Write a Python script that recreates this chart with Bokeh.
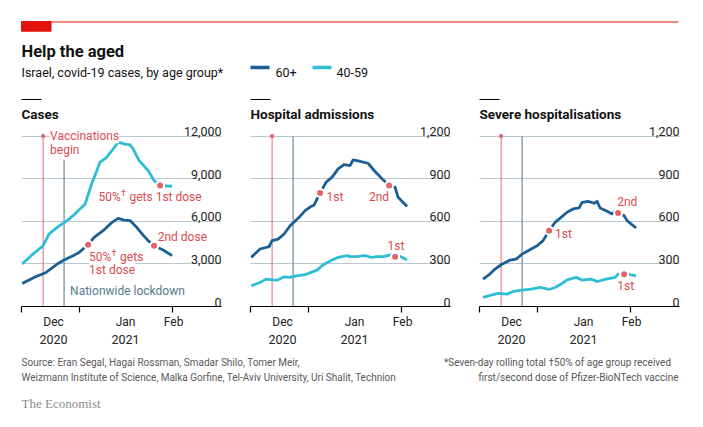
import pandas as pd
from bokeh.plotting import figure
from bokeh.layouts import column, row
from bokeh.models import Range1d, FixedTicker, DatetimeAxis, Label
from bokeh.core.properties import value
from bokeh.embed import file_html
from bokeh.resources import INLINE

# ---- data (seven-day rolling totals) ----
cases_60_dates = ["2020-12-13", "2020-12-17", "2020-12-21", "2020-12-25", "2020-12-27", "2020-12-30",
                  "2021-01-01", "2021-01-03", "2021-01-04", "2021-01-06", "2021-01-09", "2021-01-12",
                  "2021-01-14", "2021-01-16", "2021-01-18", "2021-01-20", "2021-01-22", "2021-01-24",
                  "2021-01-26", "2021-01-29", "2021-02-01"]
cases_60 = [1620, 2050, 2400, 3030, 3270, 3580, 3810, 4170, 4350, 4870, 5340, 5930,
            6210, 6090, 6050, 5620, 5110, 4640, 4280, 3980, 3580]

cases_40_dates = ["2020-12-13", "2020-12-16", "2020-12-20", "2020-12-22", "2020-12-25", "2020-12-28",
                  "2020-12-30", "2021-01-03", "2021-01-05", "2021-01-08", "2021-01-10", "2021-01-12",
                  "2021-01-14", "2021-01-16", "2021-01-18", "2021-01-19", "2021-01-21", "2021-01-24",
                  "2021-01-26", "2021-01-28", "2021-02-01"]
cases_40 = [2990, 3580, 4280, 5110, 5620, 6050, 6400, 7220, 8520, 10170, 10470, 10990,
            11580, 11460, 11390, 11110, 10280, 9580, 8870, 8520, 8470]

hosp_60_dates = ["2020-12-13", "2020-12-16", "2020-12-19", "2020-12-20", "2020-12-22", "2020-12-24",
                 "2020-12-26", "2020-12-29", "2020-12-31", "2021-01-02", "2021-01-03", "2021-01-05",
                 "2021-01-07", "2021-01-09", "2021-01-11", "2021-01-13", "2021-01-15", "2021-01-16",
                 "2021-01-18", "2021-01-21", "2021-01-23", "2021-01-26", "2021-01-28", "2021-01-30",
                 "2021-01-31", "2021-02-03"]
hosp_60 = [346, 405, 421, 464, 475, 511, 569, 628, 675, 705, 715, 800, 875, 911, 969, 1000,
           993, 1033, 1024, 1009, 958, 892, 852, 840, 769, 704]

hosp_40_dates = ["2020-12-13", "2020-12-16", "2020-12-18", "2020-12-21", "2020-12-22", "2020-12-24",
                 "2020-12-26", "2020-12-28", "2020-12-31", "2021-01-02", "2021-01-04", "2021-01-06",
                 "2021-01-09", "2021-01-11", "2021-01-14", "2021-01-15", "2021-01-17", "2021-01-20",
                 "2021-01-22", "2021-01-24", "2021-01-26", "2021-01-29", "2021-01-30", "2021-02-01",
                 "2021-02-03"]
hosp_40 = [146, 169, 193, 186, 188, 209, 205, 216, 224, 240, 256, 294, 327, 346, 358, 351,
           351, 358, 346, 351, 351, 365, 351, 351, 327]

severe_60_dates = ["2020-12-14", "2020-12-16", "2020-12-18", "2020-12-20", "2020-12-23", "2020-12-25",
                   "2020-12-27", "2020-12-29", "2021-01-01", "2021-01-03", "2021-01-05", "2021-01-07",
                   "2021-01-09", "2021-01-11", "2021-01-13", "2021-01-15", "2021-01-16", "2021-01-18",
                   "2021-01-20", "2021-01-21", "2021-01-22", "2021-01-24", "2021-01-26", "2021-01-27",
                   "2021-01-28", "2021-01-30", "2021-01-31", "2021-02-03"]
severe_60 = [193, 224, 264, 294, 327, 334, 369, 393, 428, 464, 534, 593, 628, 664, 687, 694,
             734, 741, 727, 741, 694, 675, 652, 671, 659, 640, 605, 553]

severe_40_dates = ["2020-12-14", "2020-12-17", "2020-12-19", "2020-12-22", "2020-12-24", "2020-12-27",
                   "2020-12-30", "2021-01-02", "2021-01-05", "2021-01-07", "2021-01-09", "2021-01-11",
                   "2021-01-14", "2021-01-16", "2021-01-19", "2021-01-21", "2021-01-24", "2021-01-27",
                   "2021-01-28", "2021-01-30", "2021-02-01", "2021-02-03"]
severe_40 = [64, 82, 92, 87, 106, 115, 122, 134, 120, 134, 158, 188, 205, 186, 193, 176,
             193, 205, 228, 228, 224, 216]

# 50% of age group vaccinated (1st / 2nd dose) markers
cases_60_dot_dates, cases_60_dots = ["2021-01-04", "2021-01-26"], [4350, 4280]
cases_40_dot_dates, cases_40_dots = ["2021-01-28"], [8520]
hosp_60_dot_dates, hosp_60_dots = ["2021-01-05", "2021-01-28"], [800, 852]
hosp_40_dot_dates, hosp_40_dots = ["2021-01-30"], [351]
severe_60_dot_dates, severe_60_dots = ["2021-01-05", "2021-01-28"], [534, 659]
severe_40_dot_dates, severe_40_dots = ["2021-01-30"], [228]

vaccination_start = "2020-12-20"
lockdown_start = "2020-12-27"

cases_ticks = [0, 3000, 6000, 9000, 12000]
cases_tick_labels = ["0", "3,000", "6,000", "9,000", "12,000"]
beds_ticks = [0, 300, 600, 900, 1200]
beds_tick_labels = ["0", "300", "600", "900", "1,200"]

month_labels = ["Dec", "Jan", "Feb"]
month_label_dates = ["2020-12-23 12:00", "2021-01-16 12:00", "2021-02-01 12:00"]
year_labels = ["2020", "2021"]
year_label_dates = ["2020-12-23 12:00", "2021-01-16 12:00"]
month_starts = ["2021-01-01", "2021-02-01"]

panel_titles = ["Cases", "Hospital admissions", "Severe hospitalisations"]
series_labels = ["60+", "40-59"]

# ---- style ----
FONT = "Roboto"
DARK = "#1b5f94"
CYAN = "#2fbdd3"
RED_TXT = "#dc4a51"
DOT = "#e0656a"
RED_LINE = "#e06a6f"
LOCK = "#6f8b9c"
LOCK_TXT = "#557a8f"
GRID = "#b9c7d0"
ECON_RED = "#e3120b"
INK = "#121212"

X0 = pd.Timestamp("2021-01-01") - pd.Timedelta(hours=19.2 * 24)
X1 = X0 + pd.Timedelta(hours=200 / 3 * 24)


def ms(d):
    return float(pd.Timestamp(d).value // 10**6)


def note(p, d, y, text, color=RED_TXT, dx=0, dy=0, size="12px"):
    p.add_layout(Label(x=ms(d), y=y, text=text, text_font=FONT, text_font_size=size,
                       text_color=color, text_baseline="middle", x_offset=dx, y_offset=dy,
                       level="glyph"))


def note_dagger(p, d, y, rest):
    # "50%" + superscript dagger + rest
    note(p, d, y, "50%")
    note(p, d, y, "†", dx=22.5, dy=4, size="9px")
    note(p, d, y, rest, dx=31)


def make_panel(title, width, left, right, ticks, tick_labels, d60, v60, d40, v40,
               dd60, dv60, dd40, dv40, lock_top, notes, dagger_notes=()):
    top = ticks[-1]
    p = figure(width=width, height=255, x_axis_type="datetime",
               x_range=Range1d(ms(X0), ms(X1)), y_range=Range1d(0, top * 1.08),
               y_axis_location=None, toolbar_location=None, output_backend="svg",
               min_border_left=left, min_border_right=right, min_border_top=21,
               min_border_bottom=50, outline_line_color=None)
    p.title.text = title
    p.title.align = "left"
    p.title.offset = 0
    p.title.standoff = 2
    p.title.text_font = FONT
    p.title.text_font_style = "bold"
    p.title.text_font_size = "13.5px"
    p.title.text_color = INK

    p.xgrid.visible = False
    p.ygrid.ticker = FixedTicker(ticks=ticks[1:])
    p.ygrid.grid_line_color = GRID
    p.ygrid.grid_line_width = 1

    ax = p.xaxis[0]
    ax.ticker = FixedTicker(ticks=[ms(d) for d in month_label_dates],
                            minor_ticks=[ms(X0)] + [ms(d) for d in month_starts])
    ax.major_label_overrides = {ms(d): t for d, t in zip(month_label_dates, month_labels)}
    ax.axis_line_color = "black"
    ax.axis_line_width = 1.2
    ax.major_tick_line_color = None
    ax.major_tick_out = 0
    ax.major_tick_in = 0
    ax.minor_tick_line_color = "black"
    ax.minor_tick_line_width = 1.2
    ax.minor_tick_out = 6
    ax.minor_tick_in = 0
    ax.major_label_standoff = 2
    ax.major_label_text_font = FONT
    ax.major_label_text_font_size = "12px"
    ax.major_label_text_color = "#222222"

    yr = DatetimeAxis(ticker=FixedTicker(ticks=[ms(d) for d in year_label_dates]),
                      major_label_overrides={ms(d): t for d, t in zip(year_label_dates, year_labels)},
                      axis_line_color=None, major_tick_line_color=None, minor_tick_line_color=None,
                      major_tick_out=0, major_tick_in=0, minor_tick_out=0, minor_tick_in=0,
                      major_label_standoff=3, major_label_text_font=FONT,
                      major_label_text_font_size="12.5px", major_label_text_color="#222222")
    p.add_layout(yr, "below")

    # event lines
    vx = pd.to_datetime([vaccination_start])
    lx = pd.to_datetime([lockdown_start])
    p.segment(x0=vx, y0=[0], x1=vx, y1=[top], line_color=RED_LINE, line_width=1)
    p.scatter(vx, [top], size=3.5, color=RED_LINE)
    p.segment(x0=lx, y0=[0], x1=lx, y1=[lock_top], line_color=LOCK, line_width=1.2)

    # y tick labels sitting on the gridlines
    p.text(x=[ms(X1)] * len(ticks), y=ticks, text=tick_labels, text_align="right",
           text_baseline="bottom", text_font=value(FONT), text_font_size="12.5px",
           text_color="#222222")

    for d, y, t, c in notes:
        p.add_layout(Label(x=ms(d), y=y, text=t, text_font=FONT, text_font_size="12px",
                           text_color=c, text_baseline="middle",
                           background_fill_color="white", level="glyph"))
    for d, y, rest in dagger_notes:
        note_dagger(p, d, y, rest)

    p.line(pd.to_datetime(d40), v40, line_color=CYAN, line_width=2.8, line_join="round")
    p.line(pd.to_datetime(d60), v60, line_color=DARK, line_width=2.8, line_join="round")
    p.scatter(pd.to_datetime(dd60 + dd40), dv60 + dv40, size=8, fill_color=DOT,
              line_color="white", line_width=2)
    return p


p1 = make_panel(panel_titles[0], 236, 21, 15, cases_ticks, cases_tick_labels,
                cases_60_dates, cases_60, cases_40_dates, cases_40,
                cases_60_dot_dates, cases_60_dots, cases_40_dot_dates, cases_40_dots, 10330,
                [("2020-12-22 08:00", 12000, "Vaccinations", RED_TXT),
                 ("2020-12-22 08:00", 10990, "begin", RED_TXT),
                 ("2021-01-27 05:00", 4920, "2nd dose", RED_TXT),
                 ("2021-01-04 08:00", 2591, "1st dose", RED_TXT),
                 ("2020-12-29 00:00", 1059, "Nationwide lockdown", LOCK_TXT)],
                [("2021-01-07 11:00", 7743, "gets 1st dose"),
                 ("2021-01-04 08:00", 3508, "gets")])
p2 = make_panel(panel_titles[1], 229, 14, 15, beds_ticks, beds_tick_labels,
                hosp_60_dates, hosp_60, hosp_40_dates, hosp_40,
                hosp_60_dot_dates, hosp_60_dots, hosp_40_dot_dates, hosp_40_dots, 1200,
                [("2021-01-07 03:00", 774, "1st", RED_TXT),
                 ("2021-01-21 07:00", 774, "2nd", RED_TXT),
                 ("2021-01-27 12:00", 428, "1st", RED_TXT)])
p3 = make_panel(panel_titles[2], 222, 14, 8, beds_ticks, beds_tick_labels,
                severe_60_dates, severe_60, severe_40_dates, severe_40,
                severe_60_dot_dates, severe_60_dots, severe_40_dot_dates, severe_40_dots, 1200,
                [("2021-01-07 00:00", 511, "1st", RED_TXT),
                 ("2021-01-27 17:00", 739, "2nd", RED_TXT),
                 ("2021-01-27 17:00", 141, "1st", RED_TXT)])

# ---- header (pixel coordinates, y downwards) ----
h = figure(width=687, height=101, x_range=Range1d(0, 687), y_range=Range1d(101, 0),
           x_axis_location=None, y_axis_location=None, toolbar_location=None,
           output_backend="svg", min_border=0, outline_line_color=None)
h.grid.visible = False
h.segment(x0=[21], y0=[21.5], x1=[678], y1=[21.5], line_color=ECON_RED, line_width=1)
h.quad(left=[21], right=[50.5], top=[21], bottom=[30.7], color=ECON_RED)
h.text(x=[21], y=[51], text=["Help the aged"], text_font=value(FONT), text_font_style="bold",
       text_font_size="16.5px", text_color=INK, text_baseline="alphabetic")
h.text(x=[21], y=[71.7], text=["Israel, covid-19 cases, by age group*"], text_font=value(FONT),
       text_font_size="12.5px", text_color=INK, text_baseline="alphabetic")
h.segment(x0=[250, 312], y0=[67, 67], x1=[269, 331], y1=[67, 67], line_color=[DARK, CYAN],
          line_width=3.5)
h.text(x=[275, 336], y=[71.7, 71.7], text=series_labels, text_font=value(FONT),
       text_font_size="12.5px", text_color=INK, text_baseline="alphabetic")
h.segment(x0=[21, 250, 479], y0=[99] * 3, x1=[41, 270, 499], y1=[99] * 3, line_color="black",
          line_width=1)

# ---- footer ----
f = figure(width=687, height=55, x_range=Range1d(0, 687), y_range=Range1d(55, 0),
           x_axis_location=None, y_axis_location=None, toolbar_location=None,
           output_backend="svg", min_border=0, outline_line_color=None)
f.grid.visible = False
f.text(x=[21, 21], y=[6, 21],
       text=["Source: Eran Segal, Hagai Rossman, Smadar Shilo, Tomer Meir,",
             "Weizmann Institute of Science, Malka Gorfine, Tel-Aviv University, Uri Shalit, Technion"],
       text_font=value(FONT), text_font_size="10px", text_color="#595959", text_baseline="middle")
f.text(x=[678, 678], y=[6, 21],
       text=["*Seven-day rolling total    †50% of age group received",
             "first/second dose of Pfizer-BioNTech vaccine"],
       text_font=value(FONT), text_font_size="10px", text_color="#595959", text_baseline="middle",
       text_align="right")
f.text(x=[21], y=[47], text=["The Economist"], text_font=value("Liberation Serif"),
       text_font_size="13px", text_color="#8c8c8c", text_baseline="middle")

layout = column(h, row(p1, p2, p3), f)
open("out.html", "w").write(file_html(layout, INLINE))
